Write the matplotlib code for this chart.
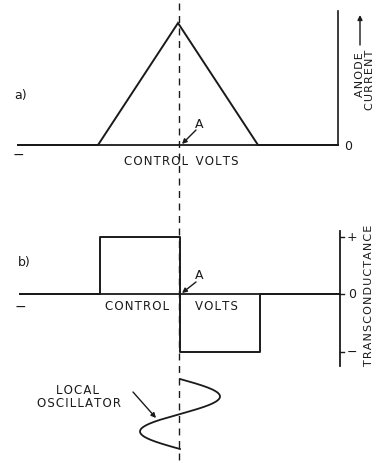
import numpy as np
import matplotlib
matplotlib.use("Agg")
import matplotlib.pyplot as plt

# ---- data (arbitrary units; control volts with point A at 0) ----
control_volts_a = [-2, -1, 0, 1, 2]
anode_current = [0, 0, 1, 0, 0]

control_volts_b = [-2, -1, -1, 0, 0, 1, 1, 2]
transconductance = [0, 0, 1, 1, -1, -1, 0, 0]

gm_ticks = [1, 0, -1]
gm_tick_labels = ["+", "0", "\u2212"]

osc_amplitude = 0.5      # in control-volt units
osc_cycles = 1.0

INK = "#1a1a1a"
W, H = 376, 464

plt.rcParams['font.family'] = ['DejaVu Sans']

fig = plt.figure(figsize=(W / 100, H / 100), dpi=100)


def spaced(s):
    return "\u200a".join(s)


def panel(top, bot, x0, xunit, y0, yunit):
    ax = fig.add_axes([0, 1 - bot / H, 1, (bot - top) / H])
    ax.set_xlim((0 - x0) / xunit, (W - x0) / xunit)
    ax.set_ylim((y0 - bot) / yunit, (y0 - top) / yunit)
    ax.axis("off")
    return ax


# overlay in pixel coordinates for labels / guide line
ov = fig.add_axes([0, 0, 1, 1], zorder=5)
ov.set_xlim(0, W)
ov.set_ylim(H, 0)
ov.axis("off")
ov.patch.set_alpha(0)

# ---- panel a ----
axa = panel(0, 170, 178, 80, 146, 122)
axa.plot([control_volts_a[0], control_volts_a[-1]], [0, 0], color=INK, lw=1.3)
axa.plot(control_volts_a, anode_current, color=INK, lw=1.4, solid_joinstyle="miter")
axa.plot([2, 2], [0, 1.1], color=INK, lw=1.2)
axa.text(2.13, 0, "0", ha="center", va="center", fontsize=9, color=INK)

# ---- panel b ----
axb = panel(170, 372, 180, 80, 295, 57.5)
axb.plot([control_volts_b[0], control_volts_b[-1]], [0, 0], color=INK, lw=1.3)
axb.plot(control_volts_b, transconductance, color=INK, lw=1.4)
axb.plot([2, 2], [-1.25, 1.1], color=INK, lw=1.3)
for t, lab in zip(gm_ticks, gm_tick_labels):
    axb.plot([2, 2.05], [t, t], color=INK, lw=1.0)
    axb.text(2.15, t, lab, ha="center", va="center", fontsize=9, color=INK)

# ---- local oscillator ----
axo = panel(372, H, 180, 80, 380, 70)
axo.set_ylim((H - 380) / 70, (372 - 380) / 70)
tt = np.linspace(0, osc_cycles, 200)
axo.plot(osc_amplitude * np.sin(2 * np.pi * tt), tt, color=INK, lw=1.3)

# ---- dashed guide line ----
ov.plot([179, 179], [4, H], color=INK, lw=1.0, dashes=(5, 4))

# ---- labels ----
fs = 8.5
ov.text(21, 95, "a)", fontsize=9, ha="center", va="center", color=INK)
ov.text(18, 155, "\u2212", fontsize=10, ha="center", va="center", color=INK)
ov.text(181, 162, spaced("CONTROL") + "  " + spaced("VOLTS"), fontsize=fs,
        ha="center", va="center", color=INK)
ov.text(199, 124, "A", fontsize=9, ha="center", va="center", color=INK)
ov.annotate("", xy=(182, 145), xytext=(196, 131),
            arrowprops=dict(arrowstyle="-|>", color=INK, lw=1.0,
                            mutation_scale=7, shrinkA=0, shrinkB=0))
ov.text(360, 75, spaced("ANODE"), rotation=90, fontsize=8, ha="center",
        va="center", color=INK)
ov.annotate("", xy=(360, 16), xytext=(360, 46),
            arrowprops=dict(arrowstyle="-|>", color=INK, lw=1.0,
                            mutation_scale=7, shrinkA=0, shrinkB=0))
ov.text(370, 80, spaced("CURRENT"), rotation=90, fontsize=8, ha="center",
        va="center", color=INK)

ov.text(24, 263, "b)", fontsize=9, ha="center", va="center", color=INK)
ov.text(20, 307, "\u2212", fontsize=10, ha="center", va="center", color=INK)
ov.text(137, 307, spaced("CONTROL"), fontsize=fs, ha="center", va="center", color=INK)
ov.text(216, 307, spaced("VOLTS"), fontsize=fs, ha="center", va="center", color=INK)
ov.text(199, 276, "A", fontsize=9, ha="center", va="center", color=INK)
ov.annotate("", xy=(182, 294), xytext=(196, 283),
            arrowprops=dict(arrowstyle="-|>", color=INK, lw=1.0,
                            mutation_scale=7, shrinkA=0, shrinkB=0))
ov.text(369, 295, spaced("TRANSCONDUCTANCE"), rotation=90, fontsize=8,
        ha="center", va="center", color=INK)

ov.text(77, 391, spaced("LOCAL"), fontsize=fs, ha="center", va="center", color=INK)
ov.text(79, 404, spaced("OSCILLATOR"), fontsize=fs, ha="center", va="center", color=INK)
ov.annotate("", xy=(156, 419), xytext=(133, 393),
            arrowprops=dict(arrowstyle="-|>", color=INK, lw=1.0,
                            mutation_scale=7, shrinkA=0, shrinkB=0))

fig.savefig("out.png", dpi=100, facecolor="white")
